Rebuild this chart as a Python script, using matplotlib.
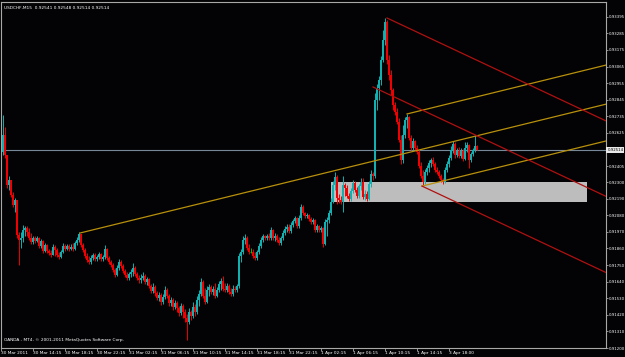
import matplotlib
matplotlib.use('Agg')
import matplotlib.pyplot as plt
from matplotlib.patches import Rectangle
from matplotlib import font_manager

# ---------------- data ----------------
symbol_title = "USDCHF,M15  0.92541 0.92548 0.92514 0.92514"
copyright_text = "OANDA - MT4, \u00a9 2001-2011 MetaQuotes Software Corp."

# prices in points (1e-5)
first_open = 92499
closes = [
    92611, 92479, 92280, 92313, 92214, 92147, 92181, 91949, 91916, 91929,
    91982, 91995, 91969, 91929, 91902, 91929, 91909, 91929, 91876, 91909,
    91843, 91882, 91843, 91829, 91816, 91869, 91849, 91816, 91803, 91836,
    91876, 91856, 91876, 91856, 91869, 91856, 91896, 91916, 91955, 91882,
    91849, 91810, 91783, 91770, 91796, 91816, 91790, 91803, 91823, 91790,
    91803, 91856, 91796, 91770, 91750, 91717, 91684, 91730, 91770, 91743,
    91710, 91684, 91664, 91690, 91703, 91730, 91690, 91664, 91650, 91664,
    91677, 91637, 91657, 91611, 91578, 91604, 91564, 91531, 91551, 91505,
    91538, 91584, 91544, 91498, 91518, 91472, 91498, 91465, 91432, 91478,
    91438, 91399, 91372, 91438, 91412, 91472, 91438, 91518, 91558, 91637,
    91544, 91505, 91584, 91604, 91571, 91591, 91544, 91584, 91624, 91644,
    91591, 91584, 91611, 91571, 91558, 91591, 91584, 91611, 91810, 91836,
    91916, 91929, 91863, 91836, 91836, 91810, 91796, 91836, 91876, 91916,
    91942, 91929, 91942, 91929, 91982, 91929, 91942, 91916, 91896, 91929,
    91962, 91988, 92002, 91975, 92015, 92041, 92061, 92008, 92061, 92134,
    92094, 92075, 92081, 92055, 92035, 92048, 91982, 92008, 91982, 91995,
    91889, 92035, 92048, 92094, 92167, 92280, 92333, 92194, 92181, 92167,
    92280, 92260, 92207, 92187, 92240, 92293, 92247, 92207, 92273, 92300,
    92200, 92220, 92187, 92287, 92353, 92340, 92843, 92923, 92976, 93108,
    93241, 93360, 93108, 93009, 92910, 92810, 92764, 92698, 92578, 92446,
    92611, 92711, 92731, 92592, 92525, 92572, 92525, 92499, 92406, 92340,
    92300, 92366, 92393, 92426, 92446, 92419, 92379, 92366, 92340, 92313,
    92300, 92379, 92419, 92459, 92512, 92552, 92479, 92505, 92472, 92505,
    92452, 92525, 92545, 92446, 92485, 92512, 92541, 92514]

highs = [
    92744, 92664, 92479, 92340, 92313, 92234, 92194, 92181, 91969, 91969,
    92015, 92008, 92008, 91995, 91962, 91942, 91942, 91942, 91935, 91922,
    91916, 91896, 91889, 91856, 91849, 91889, 91882, 91863, 91836, 91849,
    91896, 91889, 91889, 91889, 91889, 91896, 91909, 91935, 91969, 91949,
    91896, 91863, 91829, 91810, 91816, 91829, 91829, 91816, 91836, 91829,
    91816, 91882, 91863, 91810, 91783, 91763, 91730, 91750, 91790, 91783,
    91756, 91723, 91703, 91703, 91723, 91763, 91743, 91703, 91684, 91690,
    91703, 91690, 91670, 91664, 91624, 91631, 91617, 91578, 91571, 91564,
    91558, 91611, 91597, 91558, 91538, 91531, 91518, 91511, 91478, 91498,
    91491, 91458, 91425, 91465, 91452, 91505, 91491, 91544, 91584, 91664,
    91650, 91597, 91611, 91624, 91617, 91611, 91631, 91604, 91644, 91664,
    91677, 91631, 91631, 91624, 91597, 91617, 91611, 91624, 91829, 91856,
    91942, 91955, 91942, 91889, 91863, 91856, 91836, 91849, 91896, 91935,
    91955, 91949, 91955, 91962, 92002, 91988, 91962, 91955, 91935, 91942,
    91982, 92008, 92022, 92022, 92035, 92055, 92075, 92068, 92081, 92154,
    92147, 92101, 92094, 92088, 92068, 92061, 92055, 92022, 92015, 92008,
    92002, 92055, 92068, 92114, 92194, 92307, 92366, 92346, 92220, 92207,
    92340, 92293, 92280, 92227, 92260, 92313, 92307, 92267, 92287, 92326,
    92326, 92247, 92240, 92307, 92379, 92366, 92890, 92949, 93002, 93135,
    93307, 93387, 93373, 93141, 93042, 92923, 92830, 92790, 92724, 92611,
    92678, 92731, 92751, 92737, 92611, 92592, 92578, 92545, 92519, 92432,
    92379, 92386, 92413, 92446, 92459, 92466, 92432, 92399, 92379, 92353,
    92326, 92399, 92439, 92479, 92538, 92572, 92565, 92525, 92532, 92525,
    92519, 92565, 92565, 92552, 92499, 92525, 92611, 92548]

lows = [
    92479, 92459, 92260, 92247, 92200, 92134, 92101, 91929, 91750, 91863,
    91902, 91942, 91942, 91916, 91889, 91889, 91896, 91902, 91863, 91863,
    91829, 91836, 91829, 91816, 91803, 91816, 91810, 91803, 91790, 91796,
    91829, 91843, 91849, 91843, 91849, 91843, 91849, 91882, 91902, 91869,
    91836, 91796, 91770, 91756, 91756, 91783, 91776, 91776, 91790, 91776,
    91776, 91790, 91783, 91756, 91737, 91703, 91670, 91677, 91717, 91730,
    91697, 91670, 91650, 91650, 91670, 91677, 91677, 91650, 91631, 91631,
    91650, 91624, 91617, 91597, 91564, 91564, 91544, 91518, 91511, 91485,
    91491, 91525, 91531, 91478, 91478, 91452, 91458, 91438, 91412, 91418,
    91399, 91372, 91253, 91359, 91385, 91399, 91412, 91425, 91478, 91544,
    91531, 91491, 91498, 91544, 91558, 91551, 91531, 91538, 91571, 91584,
    91578, 91571, 91571, 91558, 91544, 91544, 91571, 91571, 91597, 91770,
    91823, 91889, 91849, 91823, 91829, 91796, 91783, 91783, 91823, 91863,
    91902, 91916, 91916, 91916, 91916, 91916, 91909, 91902, 91882, 91882,
    91916, 91949, 91969, 91962, 91962, 92002, 92028, 91995, 91995, 92048,
    92081, 92061, 92061, 92041, 92022, 92022, 91969, 91969, 91969, 91969,
    91869, 91882, 91942, 92028, 92081, 92161, 92247, 92154, 92161, 92154,
    92101, 92207, 92194, 92174, 92174, 92227, 92234, 92194, 92194, 92247,
    92187, 92181, 92174, 92181, 92267, 92313, 92326, 92777, 92843, 92943,
    93095, 93208, 93082, 92976, 92876, 92777, 92744, 92684, 92565, 92419,
    92426, 92592, 92658, 92578, 92512, 92512, 92512, 92485, 92393, 92326,
    92280, 92287, 92346, 92366, 92399, 92406, 92366, 92353, 92326, 92300,
    92287, 92293, 92366, 92399, 92446, 92492, 92459, 92466, 92459, 92459,
    92439, 92446, 92499, 92393, 92432, 92472, 92499, 92514]

x_tick_pos = [-1, 15, 31, 47, 63, 79, 95, 111, 127, 143, 159, 175, 191, 207, 223]
x_tick_labels = ['30 Mar 2011', '30 Mar 14:15', '30 Mar 18:15', '30 Mar 22:15',
                 '31 Mar 02:15', '31 Mar 06:15', '31 Mar 10:15', '31 Mar 14:15',
                 '31 Mar 18:15', '31 Mar 22:15', '1 Apr 02:15', '1 Apr 06:15',
                 '1 Apr 10:15', '1 Apr 14:15', '3 Apr 18:00']

y_tick_labels = ['0.91200', '0.91310', '0.91420', '0.91530', '0.91640', '0.91750',
                 '0.91860', '0.91970', '0.92080', '0.92190', '0.92300', '0.92405',
                 '0.92625', '0.92735', '0.92845', '0.92955', '0.93065', '0.93175',
                 '0.93285', '0.93395']

# channel objects (bar index, price)
yellow_x0 = [38.5, 202, 209.5]
yellow_p0 = [0.91962, 0.92751, 0.92273]
yellow_x1 = [301.5, 301.5, 301.5]
yellow_p1 = [0.92816, 0.93075, 0.92572]

red_x0 = [192, 185, 209.5]
red_p0 = [0.93387, 0.92930, 0.92273]
red_x1 = [301.5, 301.5, 301.5]
red_p1 = [0.92705, 0.92205, 0.91700]

box_x = [164, 292]
box_p = [0.92167, 0.92300]

x_limits = [-1, 301.5]
y_limits = [0.91200, 0.93493]

# ---------------- font ----------------
_names = {f.name for f in font_manager.fontManager.ttflist}
if 'Liberation Sans Narrow' in _names:
    FONT, FS = 'Liberation Sans Narrow', 4.0
else:
    FONT, FS = 'DejaVu Sans', 3.1
plt.rcParams['font.family'] = [FONT, 'DejaVu Sans']
FS_Y = FS * 0.9

# ---------------- figure ----------------
W, H = 625, 357
BG = '#030305'
FG = '#a8a8a8'
fig = plt.figure(figsize=(W / 100, H / 100), dpi=100, facecolor=BG)
ax = fig.add_axes([1 / W, 9 / H, 605 / W, 346 / H], facecolor=BG)
ax.set_xlim(*x_limits)
ax.set_ylim(*y_limits)

# rectangle object (behind candles)
ax.add_patch(Rectangle((box_x[0], box_p[0]), box_x[1] - box_x[0], box_p[1] - box_p[0],
                       facecolor='#bdbdbd', edgecolor='none', zorder=1))

# current price line
last_price = closes[-1] / 1e5
ax.axhline(last_price, color='#778899', lw=0.8, zorder=2)

# candles
opens = [first_open] + closes[:-1]
bull_c, bear_c, doji_c = '#12b0b0', '#f00000', '#00c000'
for i, (o, c, h, l) in enumerate(zip(opens, closes, highs, lows)):
    o5, c5 = o / 1e5, c / 1e5
    h5 = max(h, o, c) / 1e5
    l5 = min(l, o, c) / 1e5
    if c > o:
        col = bull_c
    elif c < o:
        col = bear_c
    else:
        col = doji_c
    ax.vlines(i, l5, h5, color=col, lw=0.7, zorder=3)
    if c != o:
        ax.bar(i, abs(c5 - o5), bottom=min(o5, c5), width=0.9, color=col,
               linewidth=0, zorder=4)
    else:
        ax.hlines(c5, i - 0.45, i + 0.45, color=col, lw=0.7, zorder=4)

# yellow channel
for x0, p0, x1, p1 in zip(yellow_x0, yellow_p0, yellow_x1, yellow_p1):
    ax.plot([x0, x1], [p0, p1], color='#b8900b', lw=0.9, zorder=5)
# red channel
for x0, p0, x1, p1 in zip(red_x0, red_p0, red_x1, red_p1):
    ax.plot([x0, x1], [p0, p1], color='#b01010', lw=0.9, zorder=5)

# axes styling
for side in ['left', 'top', 'right', 'bottom']:
    ax.spines[side].set_color(FG)
    ax.spines[side].set_linewidth(0.8)

y_tick_vals = [float(s) for s in y_tick_labels]
ax.yaxis.tick_right()
ax.set_yticks(y_tick_vals)
ax.set_yticklabels(y_tick_labels)
ax.tick_params(axis='y', direction='out', length=1.5, width=0.6, color=FG,
               labelcolor='white', labelsize=FS_Y, pad=0.8)
ax.set_xticks(x_tick_pos)
ax.set_xticklabels(x_tick_labels)
ax.tick_params(axis='x', direction='out', length=2, width=0.6, color=FG,
               labelcolor='white', labelsize=FS, pad=0.5)
for lbl in ax.get_xticklabels():
    lbl.set_horizontalalignment('left')

# current price label box
ax.annotate(f'{last_price:.5f}', xy=(1.0, last_price), xycoords=('axes fraction', 'data'),
            xytext=(0.9, 0), textcoords='offset points', va='center', ha='left',
            fontsize=FS_Y, color='black',
            bbox=dict(boxstyle='square,pad=0.2', facecolor='#e8e8e8', edgecolor='none'),
            zorder=10, annotation_clip=False)

# texts
fig.text(4 / W, 1 - 8 / H, symbol_title, color='white', fontsize=FS, va='center', ha='left')
fig.text(4 / W, 1 - 340 / H, copyright_text, color='white', fontsize=FS, va='center', ha='left')

fig.savefig('out.png', dpi=100, facecolor=BG)
